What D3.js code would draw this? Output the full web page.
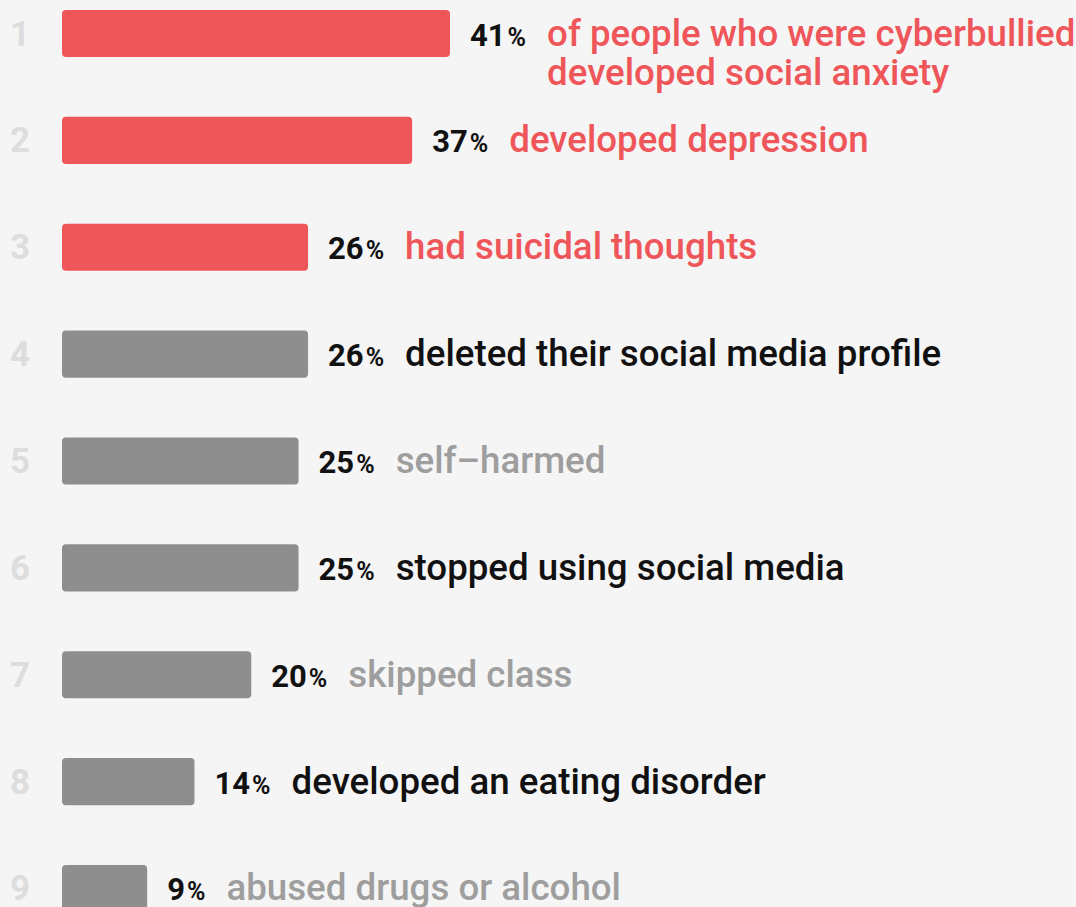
<!DOCTYPE html>
<html>
<head>
<meta charset="utf-8">
<script src="https://cdn.jsdelivr.net/npm/d3@7"></script>
<style>
  html, body { margin: 0; padding: 0; background: #f5f5f5; overflow: hidden; }
  svg { display: block; font-family: Roboto, "Noto Sans", sans-serif; }
</style>
</head>
<body>
<svg id="chart" width="1076" height="907"></svg>
<script>
// Outcomes reported by people who were cyberbullied (share of respondents, %)
const ranks = [1, 2, 3, 4, 5, 6, 7, 8, 9];
const values = [41, 37, 26, 26, 25, 25, 20, 14, 9];
const descriptions = [
  ["of people who were cyberbullied", "developed social anxiety"],
  ["developed depression"],
  ["had suicidal thoughts"],
  ["deleted their social media profile"],
  ["self\u2013harmed"],
  ["stopped using social media"],
  ["skipped class"],
  ["developed an eating disorder"],
  ["abused drugs or alcohol"]
];
const mentalHealthCount = 3; // first rows are mental-health outcomes

const rows = ranks.map((r, i) => ({ rank: r, value: values[i], lines: descriptions[i], i }));

const RED = "#ef565a", BAR_GRAY = "#8e8e8e", TEXT_GRAY = "#9e9e9e", RANK = "#dddddd";

const svg = d3.select("#chart");

const x = d3.scaleLinear().domain([0, 41]).range([62, 450]);
const y = d3.scaleBand().domain(ranks).range([10, 912]).paddingInner(0.56).paddingOuter(0).align(0);

const barColor = d => d.i < mentalHealthCount ? RED : BAR_GRAY;
const textColor = d => d.i < mentalHealthCount ? RED : (d.i % 2 === 1 ? "#111111" : TEXT_GRAY);
const baseline = d => y(d.rank) + y.bandwidth() / 2 + 12;

const g = svg.selectAll("g.row").data(rows).join("g").attr("class", "row");

// rank number
g.append("text")
  .attr("x", 10)
  .attr("y", baseline)
  .attr("font-size", 35)
  .attr("font-weight", 700)
  .attr("fill", RANK)
  .text(d => d.rank);

// bar
g.append("rect")
  .attr("x", x(0))
  .attr("y", d => y(d.rank))
  .attr("width", d => x(d.value) - x(0))
  .attr("height", y.bandwidth())
  .attr("rx", 4)
  .attr("fill", barColor);

// value label
const val = g.append("text")
  .attr("class", "val")
  .attr("x", d => x(d.value) + 20)
  .attr("y", baseline)
  .attr("fill", "#111111")
  .attr("font-weight", 700);
val.append("tspan").attr("font-size", 31).text(d => d.value);
val.append("tspan").attr("font-size", 25).attr("dx", 2).text("%");

// description
g.each(function (d) {
  const vNode = d3.select(this).select("text.val").node();
  const vEnd = x(d.value) + 20 + 2 + vNode.getComputedTextLength();
  const t = d3.select(this).append("text")
    .attr("x", vEnd + 21)
    .attr("y", baseline(d))
    .attr("font-size", 36.7)
    .attr("font-weight", 500)
    .attr("fill", textColor(d));
  t.selectAll("tspan").data(d.lines).join("tspan")
    .attr("x", vEnd + 21)
    .attr("dy", (l, k) => k === 0 ? 0 : 39)
    .text(l => l);
});
</script>
</body>
</html>
